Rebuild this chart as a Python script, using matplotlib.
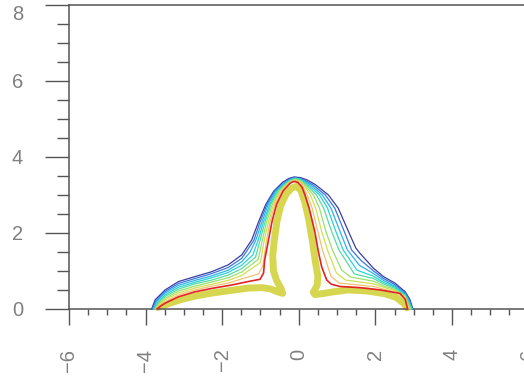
import numpy as np
import matplotlib

matplotlib.use("Agg")
import matplotlib.pyplot as plt
from matplotlib.ticker import FixedLocator

# level curves, outermost (navy) to innermost (red)
navy_x = [-3.84, -3.75, -3.49, -3.14, -2.71, -2.27, -1.84, -1.49, -1.23, -1.05, -0.86,
          -0.65, -0.42, -0.26, -0.12, 0.05, 0.22, 0.43, 0.77, 1.03, 1.30, 1.49, 1.60,
          1.95, 2.21, 2.51, 2.78, 2.90, 2.98]
navy_y = [0.00, 0.24, 0.50, 0.72, 0.85, 0.98, 1.16, 1.42, 1.81, 2.29, 2.75,
          3.10, 3.33, 3.43, 3.47, 3.45, 3.39, 3.27, 3.00, 2.65, 2.03, 1.60, 1.46,
          1.07, 0.85, 0.68, 0.45, 0.25, 0.00]

blue_x = [-3.82, -3.73, -3.49, -3.14, -2.71, -2.27, -1.84, -1.49, -1.36, -1.17, -1.01,
          -0.83, -0.63, -0.38, -0.24, -0.12, 0.04, 0.18, 0.37, 0.69, 0.94, 1.19, 1.38,
          1.62, 1.95, 2.21, 2.51, 2.78, 2.88, 2.97]
blue_y = [0.00, 0.22, 0.46, 0.67, 0.80, 0.93, 1.09, 1.33, 1.52, 1.81, 2.29,
          2.75, 3.10, 3.32, 3.41, 3.45, 3.43, 3.37, 3.26, 3.00, 2.65, 2.03, 1.55,
          1.28, 1.00, 0.80, 0.64, 0.42, 0.24, 0.00]

ltblue_x = [-3.80, -3.71, -3.49, -3.14, -2.71, -2.27, -1.84, -1.49, -1.28, -1.12, -0.96,
            -0.80, -0.60, -0.37, -0.23, -0.12, 0.03, 0.15, 0.32, 0.61, 0.84, 1.08, 1.27,
            1.58, 1.95, 2.21, 2.51, 2.78, 2.87, 2.96]
ltblue_y = [0.00, 0.20, 0.42, 0.62, 0.75, 0.87, 1.02, 1.24, 1.48, 1.81, 2.29,
            2.75, 3.10, 3.31, 3.40, 3.44, 3.42, 3.36, 3.25, 3.00, 2.65, 2.03, 1.55,
            1.15, 0.93, 0.75, 0.60, 0.39, 0.23, 0.00]

cyan_x = [-3.78, -3.69, -3.49, -3.14, -2.71, -2.27, -1.84, -1.49, -1.20, -1.06, -0.92,
          -0.76, -0.57, -0.35, -0.22, -0.11, 0.03, 0.13, 0.27, 0.54, 0.75, 0.97, 1.16,
          1.52, 1.95, 2.21, 2.51, 2.78, 2.86, 2.95]
cyan_y = [0.00, 0.18, 0.37, 0.57, 0.70, 0.82, 0.96, 1.15, 1.42, 1.81, 2.29,
          2.75, 3.10, 3.30, 3.39, 3.43, 3.41, 3.35, 3.24, 3.00, 2.65, 2.03, 1.55,
          1.02, 0.86, 0.70, 0.57, 0.37, 0.22, 0.00]

aqua_x = [-3.76, -3.67, -3.49, -3.14, -2.71, -2.27, -1.84, -1.49, -1.13, -1.01, -0.88,
          -0.73, -0.54, -0.33, -0.21, -0.11, 0.02, 0.11, 0.22, 0.46, 0.65, 0.86, 1.05,
          1.45, 1.95, 2.21, 2.51, 2.78, 2.84, 2.93]
aqua_y = [0.00, 0.16, 0.33, 0.52, 0.66, 0.76, 0.89, 1.06, 1.36, 1.81, 2.29,
          2.75, 3.10, 3.30, 3.38, 3.42, 3.40, 3.34, 3.24, 3.00, 2.65, 2.03, 1.55,
          0.92, 0.80, 0.66, 0.54, 0.35, 0.21, 0.00]

green_x = [-3.75, -3.66, -3.49, -3.14, -2.71, -2.27, -1.84, -1.49, -1.06, -0.95, -0.84,
           -0.69, -0.51, -0.30, -0.20, -0.11, 0.02, 0.09, 0.17, 0.38, 0.54, 0.71, 0.88,
           1.12, 1.35, 1.95, 2.21, 2.51, 2.78, 2.83, 2.92]
green_y = [0.00, 0.14, 0.28, 0.47, 0.60, 0.71, 0.82, 0.97, 1.30, 1.81, 2.29,
           2.75, 3.10, 3.30, 3.37, 3.40, 3.38, 3.33, 3.24, 3.00, 2.65, 2.03, 1.55,
           1.02, 0.84, 0.73, 0.61, 0.51, 0.33, 0.20, 0.00]

ygreen_x = [-3.73, -3.64, -3.49, -3.14, -2.71, -2.27, -1.84, -1.49, -1.00, -0.90, -0.79,
            -0.66, -0.48, -0.28, -0.19, -0.10, 0.01, 0.07, 0.12, 0.30, 0.44, 0.60, 0.75,
            0.98, 1.22, 1.95, 2.21, 2.51, 2.78, 2.81, 2.90]
ygreen_y = [0.00, 0.12, 0.24, 0.42, 0.55, 0.65, 0.75, 0.88, 1.22, 1.81, 2.29,
            2.75, 3.10, 3.30, 3.36, 3.39, 3.37, 3.33, 3.27, 3.00, 2.65, 2.03, 1.55,
            0.95, 0.76, 0.66, 0.57, 0.48, 0.31, 0.19, 0.00]

peach_x = [-3.72, -3.63, -3.49, -3.14, -2.71, -2.27, -1.84, -1.49, -1.05, -0.94, -0.84,
           -0.75, -0.62, -0.45, -0.26, -0.18, -0.10, 0.00, 0.07, 0.22, 0.35, 0.50, 0.62,
           0.84, 1.05, 1.95, 2.21, 2.51, 2.78, 2.79, 2.88]
peach_y = [0.00, 0.10, 0.19, 0.37, 0.50, 0.60, 0.68, 0.79, 0.92, 1.12, 1.81,
           2.29, 2.75, 3.10, 3.30, 3.35, 3.37, 3.35, 3.30, 3.00, 2.65, 2.03, 1.55,
           0.86, 0.68, 0.59, 0.52, 0.45, 0.29, 0.18, 0.00]

red_x = [-3.70, -3.60, -3.49, -3.14, -2.71, -2.27, -1.75, -1.32, -1.01, -0.92, -0.89,
         -0.84, -0.79, -0.70, -0.58, -0.41, -0.23, -0.16, -0.10, -0.02, 0.08, 0.16,
         0.27, 0.42, 0.51, 0.60, 0.73, 0.85, 1.08, 1.60, 2.12, 2.64, 2.78, 2.84]
red_y = [0.00, 0.08, 0.15, 0.32, 0.45, 0.54, 0.63, 0.72, 0.78, 0.94, 1.29,
         1.55, 1.81, 2.29, 2.75, 3.10, 3.30, 3.34, 3.35, 3.32, 3.21, 3.00,
         2.65, 2.03, 1.51, 1.10, 0.76, 0.65, 0.59, 0.56, 0.50, 0.41, 0.25, 0.00]

curves = [
    (navy_x, navy_y, "#3c3ca6"),
    (blue_x, blue_y, "#3a78dc"),
    (ltblue_x, ltblue_y, "#2fb2ec"),
    (cyan_x, cyan_y, "#2ad2d2"),
    (aqua_x, aqua_y, "#55dca0"),
    (green_x, green_y, "#98e070"),
    (ygreen_x, ygreen_y, "#d2e050"),
    (peach_x, peach_y, "#f4c070"),
]

# dense yellow band of samples just inside the innermost level
band_x = [-3.68, -3.45, -3.10, -2.70, -2.25, -1.75, -1.30, -0.95, -0.72, -0.55, -0.42,
          -0.47, -0.58, -0.66, -0.68, -0.64, -0.57, -0.47, -0.33, -0.18, -0.07, 0.05,
          0.16, 0.27, 0.36, 0.44, 0.50, 0.48, 0.38, 0.42, 0.60, 0.90, 1.30, 1.80,
          2.25, 2.55, 2.75, 2.82]
band_y = [0.04, 0.12, 0.24, 0.34, 0.42, 0.49, 0.55, 0.56, 0.52, 0.45, 0.41,
          0.55, 0.75, 1.00, 1.40, 1.80, 2.30, 2.72, 3.02, 3.18, 3.22, 3.13,
          2.80, 2.30, 1.75, 1.20, 0.85, 0.62, 0.44, 0.38, 0.40, 0.45, 0.50, 0.47,
          0.40, 0.30, 0.14, 0.03]

x_major = [-6, -4, -2, 0, 2, 4, 6]
y_major = [0, 2, 4, 6, 8]

axis_color = "#555555"
label_color = "#808080"
plt.rcParams["font.family"] = ["Liberation Sans", "DejaVu Sans"]

fig = plt.figure(figsize=(5.24, 3.82), dpi=100)
# axes run a little past the right edge, so the x=6 tick sits just off canvas
ax = fig.add_axes([0, 0, 1.019, 1])
ax.set_xlim(-7.80, 6.14)
ax.set_ylim(-1.92, 8.12)

ax.plot(band_x, band_y, color="#cccc26", linewidth=5, alpha=0.8,
        solid_capstyle="round", solid_joinstyle="round", zorder=2)
for xs, ys, c in curves:
    ax.plot(xs, ys, color=c, linewidth=0.9, zorder=3)
ax.plot(red_x, red_y, color="#e02424", linewidth=1.2, zorder=4)

# crossing axes in the old plotting-package style
ax.spines["right"].set_visible(False)
ax.spines["left"].set_position(("data", -6))
ax.spines["bottom"].set_position(("data", 0))
ax.spines["top"].set_position(("data", 8))
ax.spines["left"].set_bounds(0, 8)
ax.spines["bottom"].set_bounds(-6, 6)
ax.spines["top"].set_bounds(-6, 6)
for side in ["left", "bottom", "top"]:
    ax.spines[side].set_color(axis_color)
    ax.spines[side].set_linewidth(1.1)

ax.xaxis.set_major_locator(FixedLocator(x_major))
ax.xaxis.set_minor_locator(FixedLocator(np.arange(-6, 6.01, 0.5)))
ax.yaxis.set_major_locator(FixedLocator(y_major))
ax.yaxis.set_minor_locator(FixedLocator(np.arange(0, 8.01, 0.5)))
ax.set_xticklabels([str(v).replace("-", "\u2212") for v in x_major])
ax.set_yticklabels([str(v) for v in y_major])

ax.tick_params(axis="x", which="major", direction="out", length=11.5, width=1,
               color=axis_color, pad=17, labelsize=14.5, labelcolor=label_color,
               labelrotation=90, top=False)
ax.tick_params(axis="x", which="minor", direction="out", length=4.3, width=1,
               color=axis_color, top=False)
ax.tick_params(axis="y", which="major", direction="out", length=17, width=1,
               color=axis_color, pad=16, labelsize=14.5, labelcolor=label_color)
ax.tick_params(axis="y", which="minor", direction="out", length=8.6, width=1,
               color=axis_color)

# keep the top label inside the canvas
ax.yaxis.get_major_ticks()[-1].label1.set_va("top")

fig.savefig("out.png", dpi=100)
plt.close(fig)
